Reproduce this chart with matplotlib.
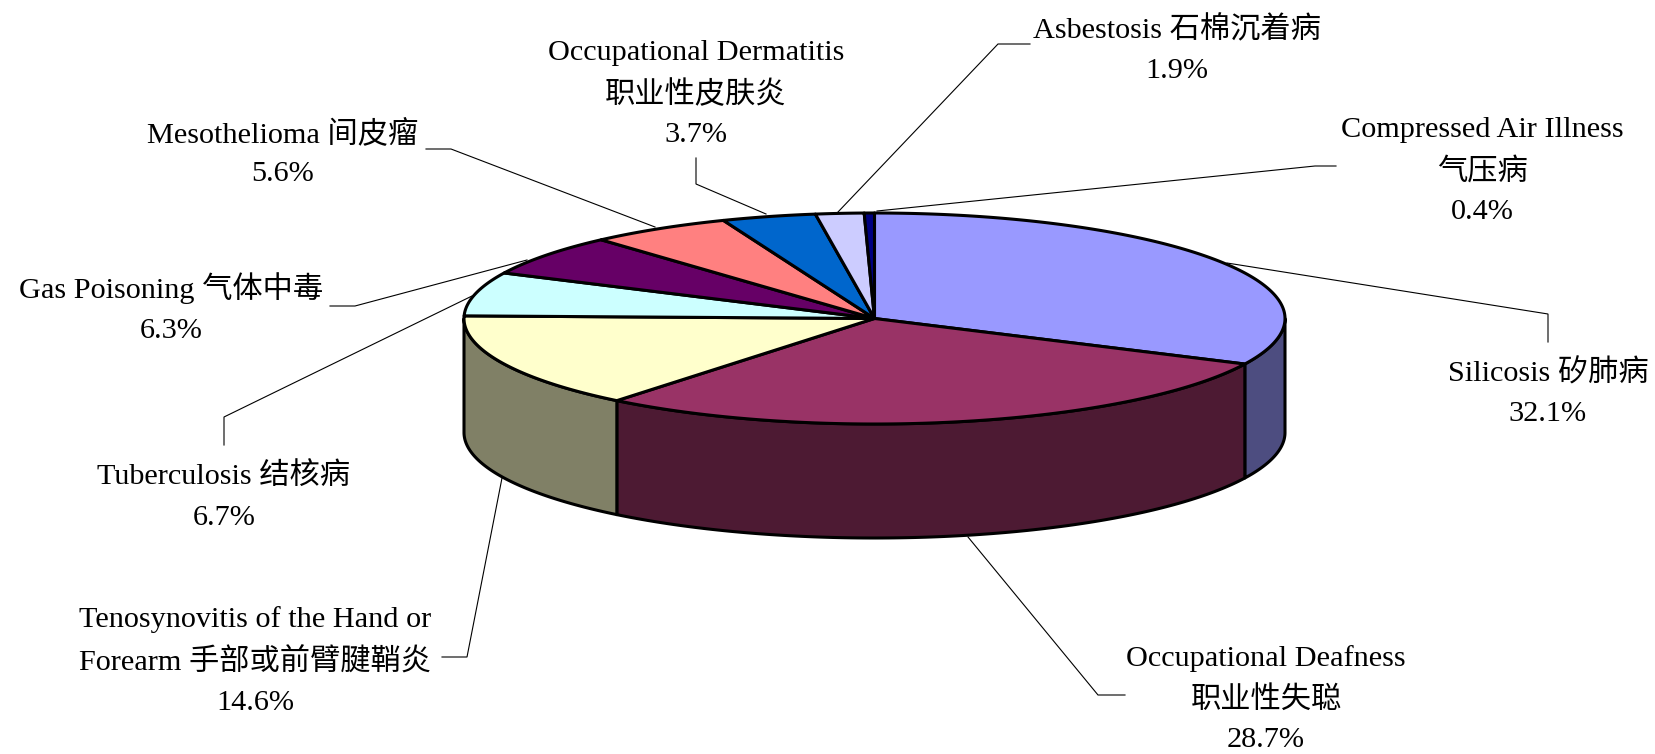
import numpy as np
from matplotlib import pyplot as plt
from matplotlib.patches import Polygon

plt.rcParams['font.family'] = ['Liberation Serif', 'Noto Sans CJK SC', 'DejaVu Sans']

# data, clockwise from 12 o'clock
names = [
    'Silicosis 矽肺病',
    'Occupational Deafness\n职业性失聪',
    'Tenosynovitis of the Hand or\nForearm 手部或前臂腱鞘炎',
    'Tuberculosis 结核病',
    'Gas Poisoning 气体中毒',
    'Mesothelioma 间皮瘤',
    'Occupational Dermatitis\n职业性皮肤炎',
    'Asbestosis 石棉沉着病',
    'Compressed Air Illness\n气压病',
]
values = [32.1, 28.7, 14.6, 6.7, 6.3, 5.6, 3.7, 1.9, 0.4]

top_colors = ['#9999FF', '#993366', '#FFFFCC', '#CCFFFF', '#660066',
              '#FF8080', '#0066CC', '#CCCCFF', '#000080']
side_colors = ['#4D4D80', '#4D1A33', '#808066']

# layout in image pixels
cx, cy = 874.5, 318.5
rx, ry = 410.5, 105.5
depth = 114
edge = 2.2

label_pos = [(1548, 393), (1266, 699), (255, 661), (224, 497), (171, 308),
             (283, 153), (696, 94), (1177, 50), (1482, 171)]
leaders = [
    [(1227, 263), (1548, 314), (1548, 342)],
    [(968, 537), (1098, 695), (1125, 695)],
    [(502, 478), (467, 657), (442, 657)],
    [(472, 296), (224, 417), (224, 445)],
    [(527, 260), (355, 306), (330, 306)],
    [(655, 227), (451, 149), (426, 149)],
    [(766, 214), (696, 184), (696, 158)],
    [(838, 212), (998, 44), (1030, 44)],
    [(877, 211), (1315, 166), (1336, 166)],
]


def ellipse_xy(clock_deg, drop=0):
    a = np.radians(clock_deg)
    return cx + rx * np.sin(a), cy - ry * np.cos(a) + drop


fig = plt.figure(figsize=(16.56, 7.54), dpi=100)
ax = fig.add_axes([0, 0, 1, 1])
ax.set_xlim(0, 1656)
ax.set_ylim(754, 0)
ax.axis('off')

bounds = np.concatenate(([0], np.cumsum(values))) * 3.6

# leader lines go under the pie
for pts in leaders:
    xs, ys = zip(*pts)
    ax.plot(xs, ys, color='black', lw=0.8, zorder=1, solid_joinstyle='miter')

# front wall, only the part between 90 and 270 degrees can be seen
for i, col in enumerate(side_colors):
    a0 = max(bounds[i], 90)
    a1 = min(bounds[i + 1], 270)
    t = np.linspace(a0, a1, 120)
    up_x, up_y = ellipse_xy(t)
    lo_x, lo_y = ellipse_xy(t[::-1], depth)
    pts = np.column_stack((np.concatenate((up_x, lo_x)), np.concatenate((up_y, lo_y))))
    ax.add_patch(Polygon(pts, closed=True, facecolor=col, edgecolor='black',
                         lw=edge, joinstyle='round', zorder=2))

# top face
for i, col in enumerate(top_colors):
    t = np.linspace(bounds[i], bounds[i + 1], 200)
    x, y = ellipse_xy(t)
    pts = np.column_stack((np.concatenate(([cx], x)), np.concatenate(([cy], y))))
    ax.add_patch(Polygon(pts, closed=True, facecolor=col, edgecolor='black',
                         lw=edge, joinstyle='round', zorder=3))

for name, val, pos in zip(names, values, label_pos):
    ax.text(pos[0], pos[1], f'{name}\n{val}%', ha='center', va='center',
            ma='center', fontsize=21.8, color='black', linespacing=1.66, zorder=4)

fig.savefig('out.png', dpi=100, facecolor='white')
